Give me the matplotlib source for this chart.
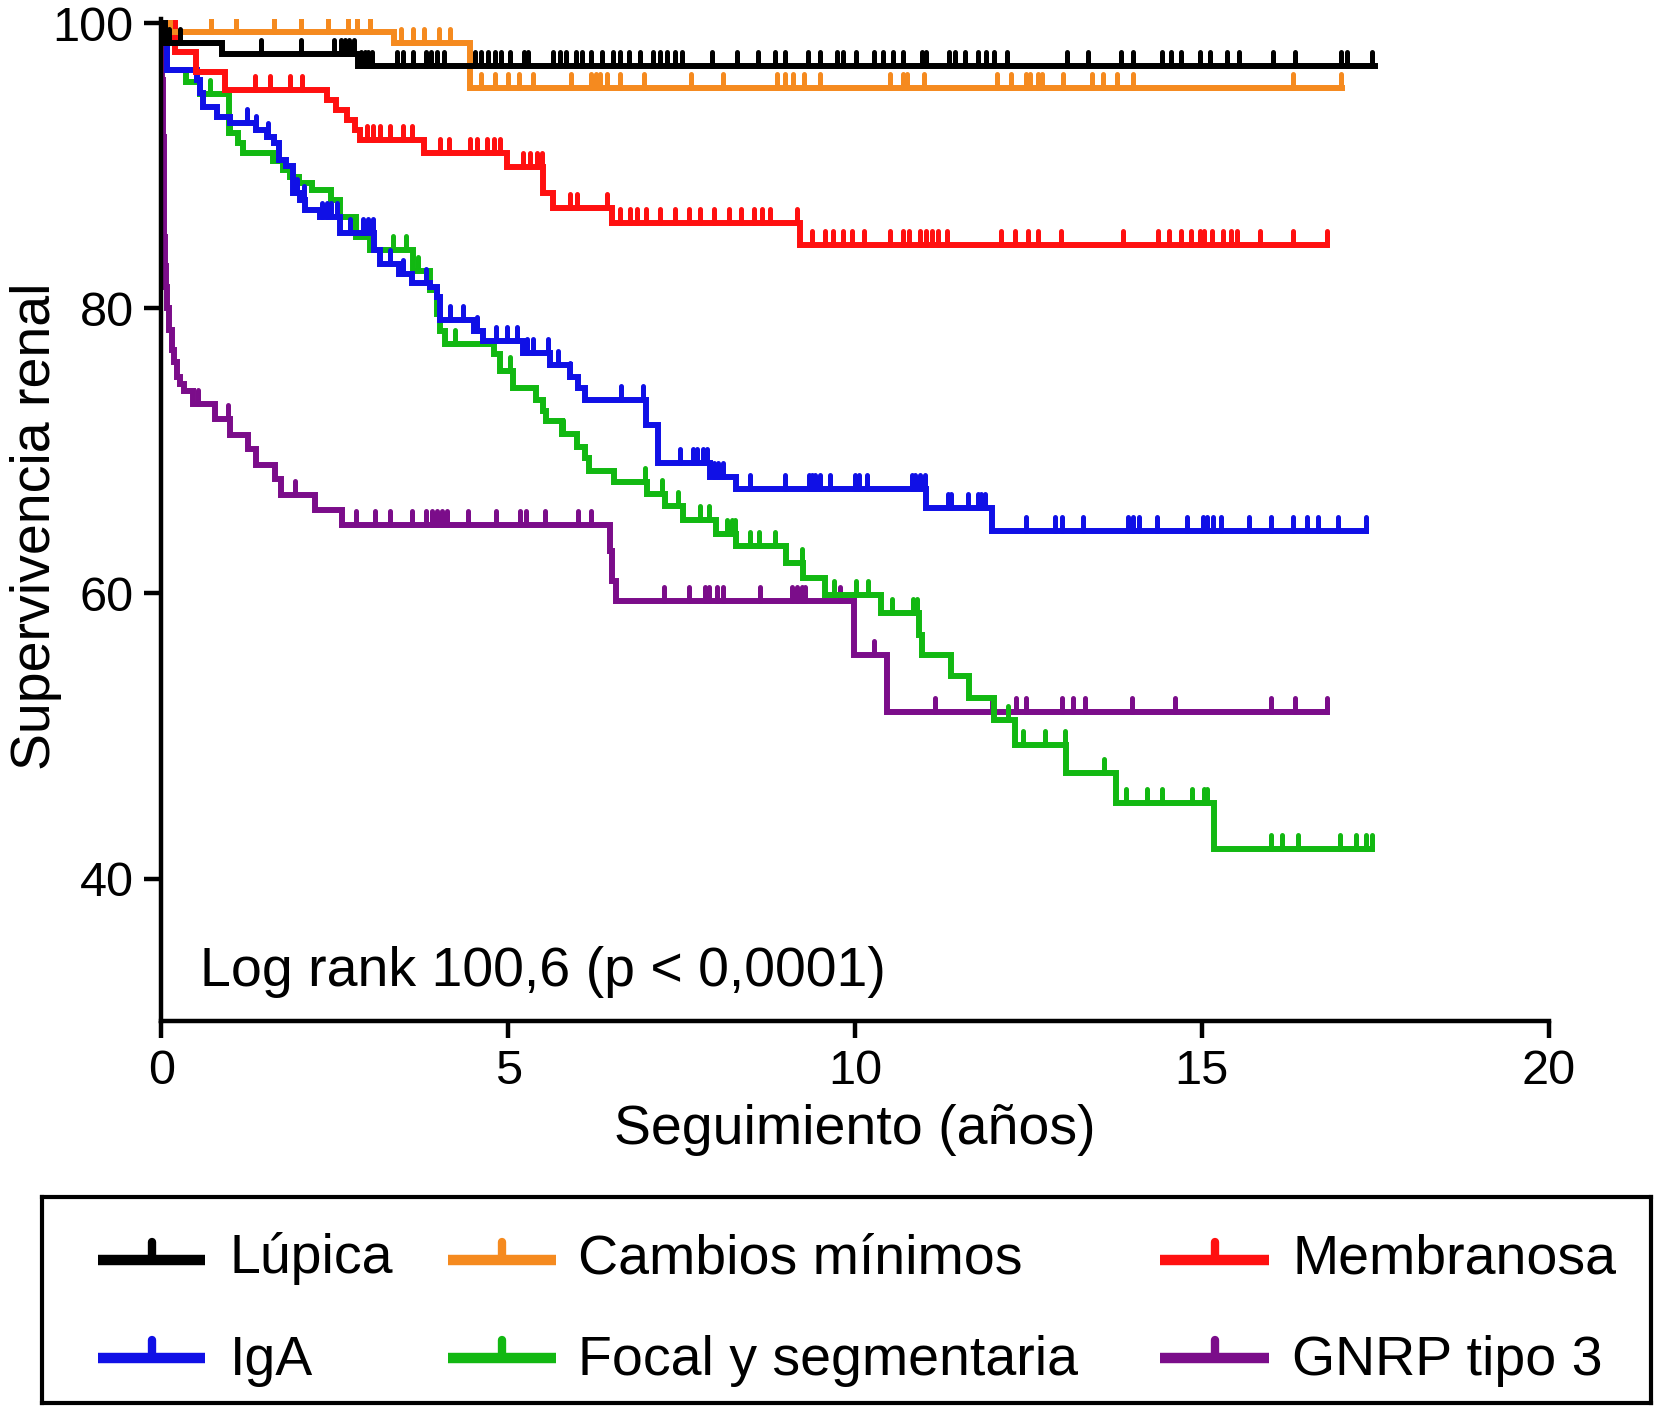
import numpy as np
import matplotlib
matplotlib.use("Agg")
import matplotlib.pyplot as plt
from matplotlib.path import Path
from matplotlib.markers import MarkerStyle

plt.rcParams['font.family'] = ['Liberation Sans', 'DejaVu Sans']

# ---- data: drop times, survival after each drop, censor times, last time ----
lup_t = [0, 0.05, 0.88, 2.83]
lup_s = [100, 98.6, 97.8, 97.0]
lup_end = 17.49
lup_c = [0.11, 0.27, 1.43, 2.01, 2.49, 2.59, 2.65, 2.71, 2.78, 2.88, 2.93, 2.98, 3.03,
         3.39, 3.49, 3.62, 3.81, 3.88, 3.97, 4.07, 4.52, 4.61, 4.71, 4.81, 4.90, 5.03,
         5.23, 5.29, 5.64, 5.74, 5.84, 5.97, 6.06, 6.19, 6.35, 6.51, 6.61, 6.74, 6.90,
         7.09, 7.19, 7.29, 7.41, 7.51, 7.94, 8.30, 8.60, 8.84, 8.99, 9.32, 9.50, 9.74,
         9.83, 10.01, 10.28, 10.40, 10.55, 10.69, 10.96, 11.02, 11.35, 11.44, 11.59,
         11.77, 11.89, 12.01, 12.19, 13.06, 13.36, 13.84, 14.01, 14.43, 14.55, 14.70,
         14.97, 15.12, 15.36, 15.54, 16.02, 16.35, 17.0, 17.1, 17.45]

cam_t = [0, 0.12, 3.36, 4.45]
cam_s = [100, 99.4, 98.6, 95.45]
cam_end = 17.02
cam_c = [0.72, 1.07, 1.62, 2.01, 2.40, 2.69, 2.82, 3.01, 3.46, 3.62, 3.78, 4.0, 4.16,
         4.61, 4.81, 5.0, 5.16, 5.35, 5.90, 6.19, 6.26, 6.32, 6.42, 6.61, 6.96, 7.64,
         8.09, 8.87, 8.99, 9.11, 9.26, 9.50, 10.51, 10.69, 10.75, 10.99, 12.04, 12.25,
         12.46, 12.52, 12.64, 12.70, 13.0, 13.42, 13.57, 13.78, 14.01, 16.32, 17.0]

mem_t = [0, 0.2, 0.5, 0.92, 2.38, 2.52, 2.67, 2.79, 2.86, 3.78, 4.98, 5.5, 5.65, 6.49, 9.2]
mem_s = [100, 98.0, 96.6, 95.3, 94.6, 93.9, 93.2, 92.5, 91.8, 90.9, 89.9, 88.1, 87.0, 86.0, 84.45]
mem_end = 16.8
mem_c = [1.35, 1.57, 1.85, 2.02, 2.96, 3.05, 3.15, 3.3, 3.49, 3.61, 4.02, 4.14, 4.45,
         4.55, 4.69, 4.79, 4.88, 5.22, 5.31, 5.41, 5.48, 5.89, 5.99, 6.42, 6.61, 6.75,
         6.85, 6.99, 7.19, 7.41, 7.61, 7.76, 7.97, 8.18, 8.36, 8.54, 8.66, 8.78, 9.17,
         9.38, 9.56, 9.68, 9.83, 9.95, 10.13, 10.51, 10.69, 10.78, 10.93, 11.02, 11.11,
         11.2, 11.32, 12.1, 12.31, 12.49, 12.64, 12.97, 13.86, 14.37, 14.52, 14.7, 14.85,
         14.97, 15.03, 15.15, 15.3, 15.42, 15.51, 15.84, 16.32, 16.8]

iga_t = [0, 0.08, 0.51, 0.55, 0.6, 0.8, 0.99, 1.37, 1.52, 1.62, 1.69, 1.8, 1.9, 2.0,
         2.07, 2.29, 2.58, 3.06, 3.15, 3.42, 3.61, 3.87, 3.97, 4.01, 4.5, 4.64, 5.22,
         5.6, 5.89, 6.01, 6.11, 6.99, 7.16, 7.91, 8.29, 11.03, 11.97]
iga_s = [100, 96.7, 96.0, 95.1, 94.15, 93.45, 93.0, 92.5, 92.0, 91.6, 90.4, 90.0, 88.1,
         87.6, 86.9, 86.4, 85.25, 84.1, 83.1, 82.4, 81.8, 81.5, 80.8, 79.2, 78.4, 77.7,
         76.85, 76.0, 75.2, 74.4, 73.6, 71.8, 69.15, 68.2, 67.35, 66.0, 64.35]
iga_end = 17.37
iga_c = [1.23, 1.37, 1.54, 1.95, 2.05, 2.31, 2.38, 2.45, 2.53, 2.72, 2.91, 2.98, 3.05,
         3.3, 3.49, 3.82, 4.16, 4.35, 4.55, 4.83, 4.98, 5.12, 5.27, 5.36, 5.58, 5.72,
         5.89, 6.63, 6.95, 7.48, 7.67, 7.72, 7.81, 7.86, 7.96, 8.03, 8.1, 8.49, 8.99,
         9.33, 9.38, 9.42, 9.49, 9.64, 10.0, 10.05, 10.17, 10.82, 10.87, 10.94, 11.01,
         11.34, 11.39, 11.63, 11.78, 11.82, 11.87, 12.47, 12.89, 12.99, 13.29, 13.94,
         14.01, 14.09, 14.36, 14.78, 15.01, 15.08, 15.16, 15.28, 15.68, 16.0, 16.32,
         16.52, 16.68, 16.96, 17.37]

foc_t = [0, 0.08, 0.35, 0.55, 0.97, 1.11, 1.18, 1.61, 1.75, 1.85, 1.99, 2.17, 2.45,
         2.57, 2.81, 3.0, 3.63, 3.87, 3.97, 4.02, 4.09, 4.79, 4.88, 5.07, 5.4, 5.5, 5.55,
         5.77, 5.99, 6.11, 6.16, 6.52, 7.0, 7.26, 7.52, 8.0, 8.29, 9.0, 9.25, 9.57,
         10.37, 10.92, 10.96, 11.38, 11.65, 12.0, 12.3, 13.04, 13.76, 15.18]
foc_s = [100, 96.7, 95.9, 95.0, 92.3, 91.6, 90.9, 90.3, 89.7, 89.2, 88.8, 88.3, 87.6,
         86.4, 85.0, 84.1, 82.6, 81.3, 79.6, 78.4, 77.5, 76.8, 75.6, 74.4, 73.6, 72.8,
         72.06, 71.2, 70.3, 69.5, 68.6, 67.8, 67.0, 66.1, 65.15, 64.2, 63.3, 62.1, 61.1,
         59.9, 58.6, 57.1, 55.7, 54.2, 52.7, 51.1, 49.4, 47.4, 45.3, 42.1]
foc_end = 17.45
foc_c = [0.7, 0.99, 3.34, 3.53, 3.7, 4.23, 5.02, 5.79, 6.97, 7.21, 7.45, 7.77, 7.89,
         8.15, 8.22, 8.27, 8.49, 8.61, 8.85, 9.23, 9.69, 10.02, 10.19, 10.53, 10.84,
         10.89, 12.2, 12.42, 12.74, 13.02, 13.59, 13.91, 14.21, 14.43, 14.86, 15.03,
         15.08, 16.0, 16.15, 16.38, 16.99, 17.22, 17.37, 17.45]

gnr_t = [0, 0.01, 0.02, 0.03, 0.04, 0.05, 0.06, 0.08, 0.11, 0.15, 0.18, 0.22, 0.27,
         0.32, 0.46, 0.77, 0.99, 1.25, 1.37, 1.64, 1.73, 2.21, 2.6, 6.47, 6.5, 6.56,
         9.99, 10.46]
gnr_s = [100, 96, 92, 88, 85, 83, 81.5, 80, 78.5, 77.1, 76.2, 75.2, 74.7, 74.2, 73.3,
         72.2, 71.1, 70.1, 69.0, 68.0, 66.9, 65.85, 64.8, 63.0, 60.9, 59.45, 55.7, 51.7]
gnr_end = 16.8
gnr_c = [0.53, 0.96, 1.93, 2.81, 3.08, 3.3, 3.61, 3.82, 3.9, 3.97, 4.04, 4.11, 4.42,
         4.83, 5.17, 5.26, 5.53, 6.01, 6.2, 7.24, 7.60, 7.84, 7.89, 8.01, 8.1, 8.63,
         9.09, 9.16, 9.23, 9.28, 9.79, 10.28, 11.15, 11.98, 12.32, 12.47, 12.99, 13.14,
         13.32, 13.99, 14.61, 16.0, 16.35, 16.8]

names = ["Lúpica", "Cambios mínimos", "Membranosa", "IgA", "Focal y segmentaria", "GNRP tipo 3"]
colors = ["#000000", "#F58A1F", "#FF1010", "#1010E6", "#12B812", "#7B0D8A"]
curves = [(lup_t, lup_s, lup_end, lup_c), (cam_t, cam_s, cam_end, cam_c),
          (mem_t, mem_s, mem_end, mem_c), (iga_t, iga_s, iga_end, iga_c),
          (foc_t, foc_s, foc_end, foc_c), (gnr_t, gnr_s, gnr_end, gnr_c)]
zorders = [7, 6, 5, 4, 3, 2]

# upward tick marker (path from centre upwards)
tick = MarkerStyle(Path([(0, 0), (0, 1)]), capstyle='round')

fig = plt.figure(figsize=(16.54, 14.06), dpi=100)
ax = fig.add_axes([0.0976, 0.2737, 0.8387, 0.7129])

for (t, s, end, c), col, z in zip(curves, colors, zorders):
    t = np.array(t)
    s = np.array(s)
    xs = np.append(t, end)
    ys = np.append(s, s[-1])
    ax.plot(xs, ys, drawstyle='steps-post', color=col, lw=4.3, zorder=z,
            solid_joinstyle='miter')
    c = np.array(c)
    lev = s[np.searchsorted(t, c, side='right') - 1]
    ax.plot(c, lev, linestyle='none', marker=tick, markersize=20, mew=3.6,
            color=col, zorder=z)

ax.set_xlim(0, 20)
ax.set_ylim(30, 100.3)
ax.set_xticks([0, 5, 10, 15, 20])
ax.set_yticks([40, 60, 80, 100])
ax.spines['top'].set_visible(False)
ax.spines['right'].set_visible(False)
ax.spines['left'].set_linewidth(3.2)
ax.spines['bottom'].set_linewidth(3.2)
ax.tick_params(axis='both', direction='out', length=12, width=3.2, labelsize=35, pad=8)

ax.set_xlabel("Seguimiento (años)", fontsize=40)
ax.xaxis.set_label_coords(0.5, -0.083)
ax.set_ylabel("Supervivencia renal", fontsize=40)
ax.yaxis.set_label_coords(-0.0715, 0.494)

ax.text(0.028, 0.035, "Log rank 100,6 (p < 0,0001)", transform=ax.transAxes,
        fontsize=40, ha='left', va='baseline')

# legend box drawn as its own panel
lg = fig.add_axes([0.0254, 0.002, 0.9728, 0.1466])
lg.set_xlim(0, 1)
lg.set_ylim(0, 1)
lg.set_xticks([])
lg.set_yticks([])
for sp in lg.spines.values():
    sp.set_linewidth(3)

col_x = [(0.0348, 0.1016, 0.1167), (0.2525, 0.3193, 0.3331), (0.695, 0.7626, 0.777)]
row_y = [(0.697, 0.631), (0.22, 0.138)]
for i, (name, col) in enumerate(zip(names, colors)):
    x0, x1, xt = col_x[i % 3]
    yl, yb = row_y[i // 3]
    lg.plot([x0, x1], [yl, yl], color=col, lw=7.5, solid_capstyle='butt')
    lg.plot([(x0 + x1) / 2], [yl], marker=tick, markersize=26, mew=6, color=col,
            linestyle='none')
    lg.text(xt, yb, name, fontsize=40, ha='left', va='baseline')

fig.savefig("out.png", dpi=100)
